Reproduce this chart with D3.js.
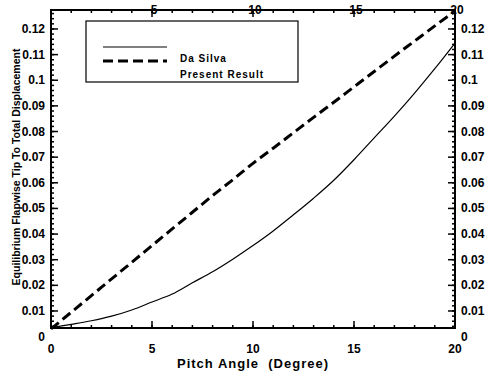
<!DOCTYPE html>
<html>
<head>
<meta charset="utf-8">
<script src="https://cdn.jsdelivr.net/npm/d3@7"></script>
<style>
  body { margin: 0; background: #fff; }
  svg { display: block; font-family: "Liberation Sans", Arial, sans-serif; font-weight: bold; }
</style>
</head>
<body>
<div id="chart"></div>
<script>
// pitch angle (degree)
let pitch = [0, 1, 2, 3, 4, 5, 6, 7, 8, 9, 10, 11, 12, 13, 14, 15, 16, 17, 18, 19, 20];
let da_silva = [0.0035, 0.0048, 0.0062, 0.008, 0.0104, 0.0135, 0.0166, 0.021, 0.0253, 0.0302, 0.0355,
                0.0412, 0.0475, 0.054, 0.061, 0.069, 0.0775, 0.086, 0.095, 0.1045, 0.1145];
let present = [0.003, 0.0095, 0.016, 0.0225, 0.029, 0.0355, 0.042, 0.0485, 0.055, 0.0612, 0.0676,
               0.0735, 0.0795, 0.0855, 0.0914, 0.0974, 0.1034, 0.1094, 0.1153, 0.1212, 0.127];
let x_ticks = [0, 5, 10, 15, 20];
let y_ticks = [0, 0.01, 0.02, 0.03, 0.04, 0.05, 0.06, 0.07, 0.08, 0.09, 0.1, 0.11, 0.12];
let y_labels = ["0", "0.01", "0.02", "0.03", "0.04", "0.05", "0.06", "0.07", "0.08", "0.09", "0.1", "0.11", "0.12"];
let legend_names = ["Da Silva", "Present Result"];

const width = 491;
const height = 378;
const margin = {top: 10, bottom: 50, left: 51, right: 36};

const svg = d3.select('#chart')
    .append('svg')
    .attr('width', width)
    .attr('height', height);

const x = d3.scaleLinear()
    .domain([0, 20])
    .range([margin.left, width - margin.right]);

const y = d3.scaleLinear()
    .domain([0.00336, 0.1274])
    .range([height - margin.bottom, margin.top]);

const y_minor = d3.range(0.004, 0.1274, 0.002);
const x_minor = d3.range(0, 21, 1);

// frame
svg.append("rect")
    .attr("x", x(0)).attr("y", y(0.1274))
    .attr("width", x(20) - x(0)).attr("height", y(0.00336) - y(0.1274))
    .attr("fill", "none").attr("stroke", "#000").attr("stroke-width", 2);

// ticks on all four sides, pointing in
function ticks (g, vals, len, side) {
    g.selectAll("line").data(vals).join("line")
        .attr("stroke", "#000").attr("stroke-width", 1.5)
        .attr("x1", d => side === "l" ? x(0) : side === "r" ? x(20) : x(d))
        .attr("x2", d => side === "l" ? x(0) + len : side === "r" ? x(20) - len : x(d))
        .attr("y1", d => side === "b" ? y(0.00336) : side === "t" ? y(0.1274) : y(d))
        .attr("y2", d => side === "b" ? y(0.00336) - len : side === "t" ? y(0.1274) + len : y(d));
}
svg.append("g").call(ticks, x_minor, 3, "b");
svg.append("g").call(ticks, x_ticks, 7, "b");
svg.append("g").call(ticks, x_minor, 3, "t");
svg.append("g").call(ticks, x_ticks, 7, "t");
svg.append("g").call(ticks, y_minor, 3, "l");
svg.append("g").call(ticks, y_ticks.slice(1), 7, "l");
svg.append("g").call(ticks, y_minor, 3, "r");
svg.append("g").call(ticks, y_ticks.slice(1), 7, "r");

// tick labels
svg.append("g").attr("font-size", 12)
    .selectAll("text").data(x_ticks).join("text")
    .attr("x", d => x(d)).attr("y", height - margin.bottom + 25)
    .attr("text-anchor", "middle")
    .text(d => d);
svg.append("g").attr("font-size", 12)
    .selectAll("text").data(x_ticks.slice(1)).join("text")
    .attr("x", d => x(d) + 2).attr("y", 14)
    .attr("text-anchor", "middle")
    .text(d => d);
svg.append("g").attr("font-size", 12)
    .selectAll("text").data(y_ticks).join("text")
    .attr("x", margin.left - 6).attr("y", d => y(d) + 4)
    .attr("text-anchor", "end")
    .text((d, i) => y_labels[i]);
svg.append("g").attr("font-size", 12)
    .selectAll("text").data(y_ticks).join("text")
    .attr("x", x(20) + 6).attr("y", d => y(d) + 4)
    .attr("text-anchor", "start")
    .text((d, i) => y_labels[i]);

// curves
const line = d3.line()
    .x((d, i) => x(pitch[i]))
    .y(d => y(d))
    .curve(d3.curveMonotoneX);

svg.append("path")
    .datum(da_silva)
    .attr("d", line)
    .attr("fill", "none").attr("stroke", "#000").attr("stroke-width", 1.2);

svg.append("path")
    .datum(present)
    .attr("d", line)
    .attr("fill", "none").attr("stroke", "#000").attr("stroke-width", 3)
    .attr("stroke-dasharray", "10,5");

// legend
const lg = svg.append("g");
lg.append("rect")
    .attr("x", 86).attr("y", 21).attr("width", 212).attr("height", 61)
    .attr("fill", "#fff").attr("stroke", "#000").attr("stroke-width", 1.2);
lg.append("line")
    .attr("x1", 103).attr("x2", 167).attr("y1", 47).attr("y2", 47)
    .attr("stroke", "#000").attr("stroke-width", 1.2);
lg.append("line")
    .attr("x1", 103).attr("x2", 167).attr("y1", 61).attr("y2", 61)
    .attr("stroke", "#000").attr("stroke-width", 3).attr("stroke-dasharray", "10,5");
lg.selectAll("text").data(legend_names).join("text")
    .attr("x", 180).attr("y", (d, i) => 62 + i * 16)
    .attr("font-size", 10).attr("letter-spacing", 1)
    .text(d => d);

// axis titles
svg.append("text")
    .attr("x", (x(0) + x(20)) / 2).attr("y", height - 10)
    .attr("text-anchor", "middle")
    .attr("font-size", 13).attr("letter-spacing", 1)
    .style("white-space", "pre")
    .text("Pitch Angle  (Degree)");

svg.append("text")
    .attr("transform", `translate(20, ${167}) rotate(-90)`)
    .attr("text-anchor", "middle")
    .attr("font-size", 10.5)
    .text("Equilibrium Flapwise Tip To Total Displacement");
</script>
</body>
</html>
